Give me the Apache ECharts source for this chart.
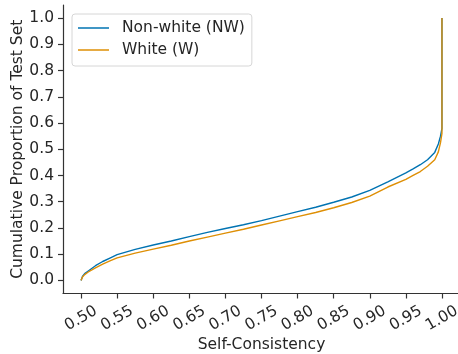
<!DOCTYPE html>
<html>
<head>
<meta charset="utf-8">
<script src="https://cdn.jsdelivr.net/npm/echarts@6/dist/echarts.min.js"></script>
<style>
  html, body { margin: 0; padding: 0; background: #fff; }
  #chart-container { width: 458px; height: 354px; }
</style>
</head>
<body>
<div id="chart-container"></div>
<script>
// self-consistency values (x) and cumulative proportions
var consistency = [0.500, 0.502, 0.505, 0.51, 0.52, 0.53, 0.54, 0.55, 0.575, 0.60, 0.625, 0.65, 0.675, 0.70,
  0.725, 0.75, 0.775, 0.80, 0.825, 0.85, 0.875, 0.90, 0.925, 0.95, 0.96, 0.97, 0.98, 0.99, 0.995, 0.998, 1.0, 1.0];
var nonWhite = [0.0, 0.015, 0.026, 0.036, 0.056, 0.072, 0.085, 0.098, 0.118, 0.135, 0.150, 0.167, 0.183, 0.198,
  0.212, 0.228, 0.245, 0.262, 0.279, 0.298, 0.318, 0.343, 0.376, 0.41, 0.425, 0.441, 0.46, 0.488, 0.52, 0.55, 0.58, 1.0];
var white = [0.0, 0.013, 0.022, 0.032, 0.048, 0.062, 0.074, 0.086, 0.104, 0.119, 0.134, 0.150, 0.165, 0.180,
  0.195, 0.211, 0.227, 0.243, 0.259, 0.277, 0.297, 0.321, 0.356, 0.385, 0.400, 0.415, 0.435, 0.46, 0.49, 0.525, 0.56, 1.0];
var xTicks = [0.50, 0.55, 0.60, 0.65, 0.70, 0.75, 0.80, 0.85, 0.90, 0.95, 1.00];
var yTicks = [0.0, 0.1, 0.2, 0.3, 0.4, 0.5, 0.6, 0.7, 0.8, 0.9, 1.0];

function pairs(xs, ys) {
  return xs.map(function (x, i) { return [x, ys[i]]; });
}

var chartDom = document.getElementById('chart-container');
var myChart = echarts.init(chartDom, null, { renderer: 'canvas' });

var font = 'DejaVu Sans';
var ink = '#262626';
var fs = 15.5;

option = {
  animation: false,
  textStyle: { fontFamily: font, color: ink },
  grid: { left: 63, top: 5, right: -2, bottom: 60.5, outerBoundsMode: 'none', containLabel: false },
  legend: {
    orient: 'vertical',
    left: 72,
    top: 14,
    padding: [6, 7, 8, 6],
    icon: 'rect',
    itemWidth: 31,
    itemHeight: 1.5,
    itemGap: 6,
    borderColor: '#d6d6d6',
    borderWidth: 1,
    borderRadius: 3,
    textStyle: { fontFamily: font, fontSize: fs, color: ink, padding: [0, 0, 0, 8], lineHeight: 16 },
    data: ['Non-white (NW)', 'White (W)']
  },
  xAxis: {
    type: 'value',
    min: 0.475,
    max: 1.025,
    name: 'Self-Consistency',
    nameLocation: 'middle',
    nameGap: 43,
    nameMoveOverlap: false,
    nameTextStyle: { fontFamily: font, fontSize: fs, color: ink },
    splitLine: { show: false },
    axisLine: { onZero: false, lineStyle: { color: '#333', width: 1.2 } },
    axisTick: { customValues: xTicks, length: 5, lineStyle: { color: '#333', width: 1.2 } },
    axisLabel: {
      customValues: xTicks,
      rotate: 30,
      align: 'center',
      verticalAlign: 'middle',
      margin: 25,
      fontFamily: font,
      fontSize: fs,
      color: ink,
      formatter: function (v) { return v.toFixed(2); }
    }
  },
  yAxis: {
    type: 'value',
    min: -0.05,
    max: 1.05,
    name: 'Cumulative Proportion of Test Set',
    nameLocation: 'middle',
    nameGap: 37,
    nameMoveOverlap: false,
    nameTextStyle: { fontFamily: font, fontSize: fs, color: ink },
    splitLine: { show: false },
    axisLine: { show: true, onZero: false, lineStyle: { color: '#333', width: 1.2 } },
    axisTick: { show: true, customValues: yTicks, length: 5, lineStyle: { color: '#333', width: 1.2 } },
    axisLabel: {
      customValues: yTicks,
      margin: 9,
      fontFamily: font,
      fontSize: fs,
      color: ink,
      formatter: function (v) { return v.toFixed(1); }
    }
  },
  series: [
    {
      name: 'Non-white (NW)',
      type: 'line',
      symbol: 'none',
      color: '#0173b2',
      lineStyle: { width: 1.4 },
      data: pairs(consistency, nonWhite)
    },
    {
      name: 'White (W)',
      type: 'line',
      symbol: 'none',
      color: '#de8f05',
      lineStyle: { width: 1.4 },
      data: pairs(consistency, white)
    }
  ]
};

option && myChart.setOption(option);
</script>
</body>
</html>
